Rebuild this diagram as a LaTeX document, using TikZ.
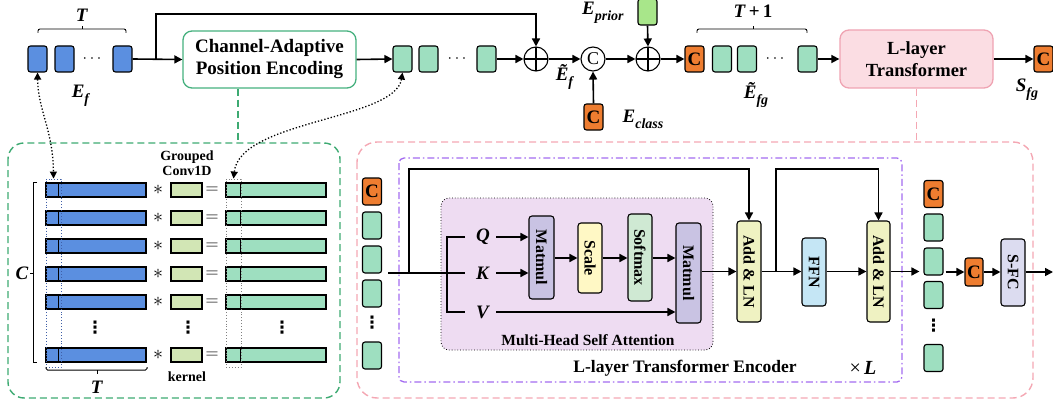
\RequirePackage{fix-cm}
\documentclass[tikz,border=0pt]{standalone}
\usepackage{fontspec}
\setmainfont{Liberation Serif}
\newfontfamily\dejavu{DejaVu Sans}
\usepackage{graphicx}
\usetikzlibrary{arrows.meta,calc}

\definecolor{blueT}{HTML}{5B8FE0}
\definecolor{mintT}{HTML}{9EDFC0}
\definecolor{orangeT}{HTML}{EE7D30}
\definecolor{priorG}{HTML}{A8E68A}
\definecolor{kernelG}{HTML}{D2E6B5}
\definecolor{capeB}{HTML}{45B07E}
\definecolor{pinkF}{HTML}{FBDDE3}
\definecolor{pinkB}{HTML}{EFA3B2}
\definecolor{dashG}{HTML}{3DAA72}
\definecolor{dashP}{HTML}{F4A7B3}
\definecolor{purpleD}{HTML}{A36BF0}
\definecolor{mhsaF}{HTML}{EEDCF2}
\definecolor{matmulF}{HTML}{C9C3E3}
\definecolor{scaleF}{HTML}{FFF8C5}
\definecolor{softF}{HTML}{CFE9D3}
\definecolor{addF}{HTML}{EFF2C2}
\definecolor{ffnF}{HTML}{C5E6F5}
\definecolor{sfcF}{HTML}{DCDCF0}
\definecolor{colBd}{HTML}{3F5FA8}

\newcommand{\fs}[1]{\fontsize{#1}{#1}\selectfont}
% bold italic symbol, and symbol with a bold italic subscript
\newcommand{\bi}[1]{\textbf{\textit{#1}}}
\newcommand{\lbl}[2]{\bi{#1}\raisebox{-0.32em}{\fs{14}\bi{#2}}}

\tikzset{
  tok/.style={draw, line width=1.1pt, rounded corners=2.5pt, minimum width=19pt,
    minimum height=26pt, inner sep=0pt},
  btok/.style={tok, fill=blueT},
  gtok/.style={tok, fill=mintT},
  ctok/.style={tok, fill=orangeT, font=\fs{19}\bfseries},
  ln/.style={line width=1.6pt},
  arr/.style={line width=1.6pt, -{Triangle[length=8pt,width=8pt]}},
  dotarr/.style={line width=1.3pt, dotted,
    {Triangle[length=7pt,width=7pt]}-{Triangle[length=7pt,width=7pt]}},
  opn/.style={circle, draw, line width=1.1pt, minimum size=24pt, inner sep=0pt},
  oplus/.style={opn, path picture={
    \draw[line width=1.1pt] (path picture bounding box.north) -- (path picture bounding box.south)
      (path picture bounding box.west) -- (path picture bounding box.east);}},
  blk/.style={draw, line width=1.1pt, rounded corners=3pt, inner sep=0pt,
    font=\fs{16}\bfseries},
  bar/.style={draw, line width=1.1pt, minimum height=14pt, inner sep=0pt},
  lab/.style={font=\fs{19}, inner sep=1pt},
  vd/.style={font=\fs{17}\dejavu\bfseries, inner sep=0pt},
  btxt/.style={font=\fs{19}\bfseries, align=center, inner sep=0pt},
}

\begin{document}
\begin{tikzpicture}[x=1pt, y=-1pt]
\useasboundingbox (0,0) rectangle (1053,404);

% ---------- top row ----------
\node[btok] (ef1) at (37.5,59) {};
\node[btok] (ef2) at (64.5,59) {};
\node[font=\fs{16}, inner sep=0pt] (efd) at (92,59) {$\cdots$};
\node[btok] (ef3) at (122.5,59) {};
\draw[line width=0.9pt, rounded corners=2pt] (38,33) -- (38,29) -- (126,29) -- (126,33);
\draw[line width=0.9pt] (82,29) -- (82,26);
\node[lab] (tT) at (82,15) {\bi{T}};
\node[lab] (efl) at (81,96) {\lbl{\bi{E}}{f}};

\node[draw=capeB, line width=1.3pt, rounded corners=9pt, minimum width=173pt,
  minimum height=57pt, btxt] (cape) at (269.5,59.5)
  {Channel-Adaptive\\[3pt]Position Encoding};

\node[gtok] (gt1) at (402.5,59) {};
\node[gtok] (gt2) at (428.5,59) {};
\node[font=\fs{16}, inner sep=0pt] (gtd) at (457,59) {$\cdots$};
\node[gtok] (gt3) at (486.5,59) {};

\node[oplus] (o1) at (536,59) {};
\node[opn, font=\fs{18}] (cc) at (593,59) {C};
\node[oplus] (o2) at (648,59) {};
\node[ctok] (ecls) at (593.5,117) {C};
\node[tok, fill=priorG] (epr) at (647.5,12) {};
\node[lab] (eftl) at (565,77) {\lbl{\bi{Ẽ}}{f}};
\node[lab] (ecl) at (643,119) {\lbl{\bi{E}}{class}};
\node[lab] (epl) at (603,13) {\lbl{\bi{E}}{prior}};

\node[ctok] (cfg) at (694.5,59) {C};
\node[gtok] (fg1) at (722,59) {};
\node[gtok] (fg2) at (747,59) {};
\node[font=\fs{16}, inner sep=0pt] (fgd) at (775,59) {$\cdots$};
\node[gtok] (fg3) at (807.5,59) {};
\draw[line width=0.9pt, rounded corners=2pt] (697,33) -- (697,29) -- (807,29) -- (807,33);
\draw[line width=0.9pt] (753,29) -- (753,26);
\node[lab] (tT1) at (753,11) {\bi{T}\,\textbf{+}\,\textbf{1}};
\node[lab] (efgl) at (756,95) {\lbl{\bi{Ẽ}}{fg}};

\node[draw=pinkB, fill=pinkF, line width=1.3pt, rounded corners=9pt, minimum width=153pt,
  minimum height=58pt, btxt, font=\fs{18.5}\bfseries] (llt) at (916.5,59)
  {L-layer\\[3pt]Transformer};
\node[ctok] (sfg) at (1043.5,59) {C};
\node[lab] (sfgl) at (1027,90) {\lbl{\bi{S}}{fg}};

% top connectors
\coordinate (br1) at (156,59);
\coordinate (top1) at (156,14);
\draw[arr] (ef3.east) -- (cape.west);
\draw[arr] (br1) -- (top1) -| (o1.north);
\draw[arr] (cape.east) -- (gt1.west);
\draw[arr] (gt3.east) -- (o1.west);
\draw[arr] (o1.east) -- (cc.west);
\draw[arr] (ecls.north) -- (cc.south);
\draw[arr] (cc.east) -- (o2.west);
\draw[arr] (epr.south) -- (o2.north);
\draw[arr] (o2.east) -- (cfg.west);
\draw[arr] (fg3.east) -- (llt.west);
\draw[arr] (llt.east) -- (sfg.west);

% ---------- position encoding detail ----------
\draw[dashG, line width=1.4pt, dash pattern=on 7pt off 4pt, rounded corners=16pt]
  (8,143) rectangle (340,398);
\coordinate (capeLink) at ([xshift=-31.5pt]cape.south);
\draw[dashG, line width=1.4pt, dash pattern=on 7pt off 4pt] (capeLink) -- (capeLink |- 0,143);

\foreach \i/\y in {1/190,2/218,3/246,4/274,5/302,6/355} {
  \node[bar, fill=blueT, minimum width=100pt] (b\i) at (96,\y) {};
  \draw[line width=1.1pt] ([xshift=13pt]b\i.north west) -- ([xshift=13pt]b\i.south west);
  \node[font=\fs{20}, inner sep=0pt] (s\i) at (158,\y) {$\ast$};
  \node[bar, fill=kernelG, minimum width=31pt] (k\i) at (186.5,\y) {};
  \node[font=\fs{18}, inner sep=0pt] (q\i) at (212,\y) {$=$};
  \node[bar, fill=mintT, minimum width=100pt] (g\i) at (276,\y) {};
  \draw[line width=1.1pt] ([xshift=15pt]g\i.north west) -- ([xshift=15pt]g\i.south west);
}
\node[vd] (vd1) at (95,328) {⋮};
\node[vd] (vd2) at (188,328) {⋮};
\node[vd] (vd3) at (282,328) {⋮};

\node[draw=colBd, dotted, line width=0.9pt, minimum width=15pt, minimum height=188pt,
  inner sep=0pt] (colB) at (53.5,273) {};
\node[draw=gray, dotted, line width=0.9pt, minimum width=15pt, minimum height=188pt,
  inner sep=0pt] (colG) at (233.5,273) {};

\draw[line width=1pt] (37,182) -- (33,182) -- (33,362) -- (37,362);
\draw[line width=1pt] (33,273) -- (30,273);
\node[lab] (cl) at (22,273) {\bi{C}};
\draw[line width=1pt, rounded corners=1.5pt] (46,367) -- (46,370) -- (147,370) -- (147,367);
\draw[line width=1pt] (97,370) -- (97,374);
\node[lab] (tb) at (97,387) {\bi{T}};

\node[font=\fs{14}\bfseries, align=center, inner sep=0pt] (gc) at (187,163)
  {Grouped\\[1pt]Conv1D};
\node[font=\fs{14}\bfseries, inner sep=0pt] (kern) at (187,377) {kernel};

\draw[dotarr] (ef1.south) .. controls (38,110) and (53,130) .. (colB.north);
\draw[dotarr] (gt1.south) .. controls (395,120) and (240,120) .. (colG.north);

% ---------- transformer detail ----------
\draw[dashP, line width=1.4pt, dash pattern=on 7pt off 4pt, rounded corners=20pt]
  (357,142) rectangle (1033,398);
\draw[dashP, line width=1.4pt, dash pattern=on 7pt off 4pt] (llt.south) -- (llt.south |- 0,142);
\draw[purpleD, line width=1.3pt, dash pattern=on 7pt off 3pt on 1.5pt off 3pt, rounded corners=5pt]
  (399,158) rectangle (902,382);
\draw[fill=mhsaF, line width=0.8pt, dotted, rounded corners=8pt] (441,198) rectangle (713,350);
\node[font=\fs{15.5}\bfseries, inner sep=0pt] (mhsa) at (588,340) {Multi-Head Self Attention};
\node[font=\fs{17.5}\bfseries, inner sep=0pt] (enc) at (685,368) {L-layer Transformer Encoder};
\node[font=\fs{20}, inner sep=0pt] (xl) at (863,368) {×\,\bi{L}};

% token columns
\node[ctok, minimum height=27pt] (lc0) at (372,191.5) {C};
\node[gtok, minimum height=27pt] (lc1) at (372,225.5) {};
\node[gtok, minimum height=27pt] (lc2) at (372,259.5) {};
\node[gtok, minimum height=27pt] (lc3) at (372,293.5) {};
\node[vd] (lcd) at (372,323) {⋮};
\node[gtok, minimum height=27pt] (lc4) at (372,355.5) {};

\node[ctok, minimum height=27pt] (rc0) at (933.5,194) {C};
\node[gtok, minimum height=27pt] (rc1) at (933.5,227.5) {};
\node[gtok, minimum height=27pt] (rc2) at (933.5,261.5) {};
\node[gtok, minimum height=27pt] (rc3) at (933.5,295) {};
\node[vd] (rcd) at (933.5,326) {⋮};
\node[gtok, minimum height=27pt] (rc4) at (933.5,358) {};

% attention blocks
\node[blk, fill=matmulF, minimum width=25pt, minimum height=83pt] (mm1) at (541.5,257.5) {\rotatebox{-90}{Matmul}};
\node[blk, fill=scaleF, minimum width=24pt, minimum height=70pt] (sc) at (590,258) {\rotatebox{-90}{Scale}};
\node[blk, fill=softF, minimum width=24pt, minimum height=87pt] (sm) at (640,257.5) {\rotatebox{-90}{Softmax}};
\node[blk, fill=matmulF, minimum width=25pt, minimum height=100pt] (mm2) at (688.5,273) {\rotatebox{-90}{Matmul}};
\node[blk, fill=addF, minimum width=24pt, minimum height=101pt] (add1) at (749,271.5) {\rotatebox{-90}{Add \& LN}};
\node[blk, fill=ffnF, minimum width=24pt, minimum height=68pt] (ffn) at (814,272) {\rotatebox{-90}{FFN}};
\node[blk, fill=addF, minimum width=23pt, minimum height=101pt] (add2) at (878.5,271.5) {\rotatebox{-90}{Add \& LN}};
\node[ctok, minimum width=18pt, minimum height=28pt] (cs) at (974,272) {C};
\node[blk, fill=sfcF, minimum width=24pt, minimum height=67pt] (sfc) at (1013,272.5) {\rotatebox{-90}{S-FC}};
\coordinate (out) at (1053,272);

\node[lab, inner sep=0pt] (ql) at (483,237) {\bi{Q}};
\node[lab, inner sep=0pt] (kl) at (483,273) {\bi{K}};
\node[lab, inner sep=0pt] (vl) at (483,312) {\bi{V}};

% attention wiring
\coordinate (inL) at (388,273);
\coordinate (brA) at (409,273);
\coordinate (topA) at (409,169);
\coordinate (spl) at (447,273);
\draw[ln] (inL) -- (465,273);
\draw[ln] (465,237) -- (spl |- 0,237) -- (spl |- 0,312) -- (465,312);
\draw[arr] (brA) -- (topA) -| (add1.north);
\draw[arr] ([xshift=6pt]ql.east) -- (ql.east -| mm1.west);
\draw[arr] ([xshift=6pt]kl.east) -- (kl.east -| mm1.west);
\draw[arr] (mm1.east |- sc.west) -- (sc.west);
\draw[arr] (sc.east) -- (sc.east -| sm.west);
\draw[arr] (sm.east |- sc.east) -- (mm2.west |- sc.east);
\draw[arr] ([xshift=6pt]vl.east) -- (vl.east -| mm2.west);
\draw[arr] (mm2.east |- add1.west) -- (add1.west);
\coordinate (brB) at (776,271.5);
\draw[arr] (add1.east) -- (ffn.west |- add1.east);
\draw[arr] (brB) -- (brB |- topA) -| (add2.north);
\draw[arr] (ffn.east |- add2.west) -- (add2.west);
\draw[arr] (add2.east) -- ([xshift=-4pt]rc2.west |- add2.east);
\draw[arr] ([xshift=2pt]rc2.east |- cs.west) -- (cs.west);
\draw[arr] (cs.east) -- (sfc.west |- cs.east);
\draw[arr] (sfc.east |- out) -- (out);
\end{tikzpicture}
\end{document}
